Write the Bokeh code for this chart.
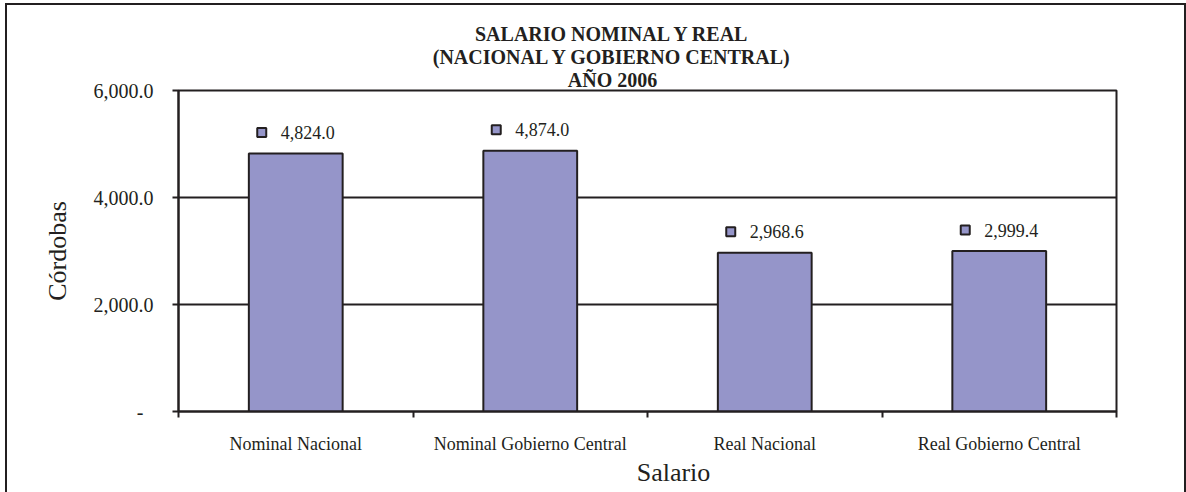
from bokeh.plotting import figure
from bokeh.models import FixedTicker, InlineStyleSheet, Range1d, ColumnDataSource, Title
from bokeh.transform import dodge
from bokeh.core.properties import value
from bokeh.embed import file_html
from bokeh.resources import INLINE

# ---- data ----
categories = ["Nominal Nacional", "Nominal Gobierno Central", "Real Nacional", "Real Gobierno Central"]
salario = [4824.0, 4874.0, 2968.6, 2999.4]
y_ticks = [0, 2000, 4000, 6000]
y_tick_labels = ["-\u00a0\u00a0", "2,000.0", "4,000.0", "6,000.0"]
title_lines = ["SALARIO NOMINAL Y REAL", "(NACIONAL Y GOBIERNO CENTRAL)", "AÑO 2006"]
x_title = "Salario"
y_title = "Córdobas"

INK = "#231F20"
BAR = "#9595C9"
FONT = "Liberation Serif"
NB = "\u00a0"

xs = [i + 0.5 for i in range(len(categories))]
src = ColumnDataSource(dict(x=xs, top=salario, lab=[f"{v:,.1f}" for v in salario]))

p = figure(width=1186, height=492, output_backend="svg", toolbar_location=None,
           x_range=Range1d(0, len(categories)), y_range=Range1d(0, 6000),
           min_border_left=178, min_border_right=70, min_border_top=90, min_border_bottom=81)
p.background_fill_color = "white"
p.border_fill_color = "white"
p.outline_line_color = INK
p.outline_line_width = 2


def style_title(t):
    t.align = "center"
    t.vertical_align = "bottom"
    t.text_font = FONT
    t.text_font_size = "20px"
    t.text_font_style = "bold"
    t.text_color = INK
    t.standoff = -1


# title: three centred lines, a little left of the plot centre as in the original
# (titles added later are stacked closer to the plot; the default title is outermost)
p.title.text = title_lines[0] + NB * 14
style_title(p.title)
for line in reversed(title_lines[1:]):
    t = Title(text=line + NB * 14)
    style_title(t)
    p.add_layout(t, "above")

# grid
p.xgrid.visible = False
p.ygrid.ticker = FixedTicker(ticks=y_ticks)
p.ygrid.grid_line_color = INK
p.ygrid.grid_line_width = 2

# y axis
ya = p.yaxis[0]
ya.ticker = FixedTicker(ticks=y_ticks, minor_ticks=[])
ya.major_label_overrides = {t: l for t, l in zip(y_ticks, y_tick_labels)}
ya.major_tick_out = 6
ya.major_tick_in = 0
ya.major_tick_line_width = 2
ya.major_tick_line_color = INK
ya.axis_line_color = INK
ya.axis_line_width = 2
ya.major_label_standoff = 19
ya.major_label_text_font = FONT
ya.major_label_text_font_size = "20px"
ya.major_label_text_color = INK
ya.axis_label = y_title
ya.axis_label_text_font = FONT
ya.axis_label_text_font_size = "26px"
ya.axis_label_text_font_style = "normal"
ya.axis_label_text_color = INK
ya.axis_label_standoff = 19

# x axis: labels at centres, ticks at category boundaries
xa = p.xaxis[0]
xa.ticker = FixedTicker(ticks=xs, minor_ticks=list(range(len(categories) + 1)))
xa.major_label_overrides = {x: c for x, c in zip(xs, categories)}
xa.major_tick_out = 0
xa.major_tick_in = 0
xa.minor_tick_out = 6
xa.minor_tick_in = 0
xa.minor_tick_line_width = 2
xa.minor_tick_line_color = INK
xa.axis_line_color = INK
xa.axis_line_width = 2
xa.major_label_standoff = 16
xa.major_label_text_font = FONT
xa.major_label_text_font_size = "18px"
xa.major_label_text_color = INK
xa.axis_label = NB * 8 + x_title
xa.axis_label_text_font = FONT
xa.axis_label_text_font_size = "26px"
xa.axis_label_text_font_style = "normal"
xa.axis_label_text_color = INK
xa.axis_label_standoff = 1

# bars
p.vbar(x="x", top="top", width=0.4, source=src, fill_color=BAR,
       line_color=INK, line_width=2)

# data labels with legend key squares
p.scatter(x=dodge("x", -0.145, range=p.x_range), y=dodge("top", 392, range=p.y_range),
          source=src, marker="square", size=9, fill_color=BAR, line_color=INK, line_width=2)
p.text(x="x", y="top", text="lab", source=src, x_offset=-15, y_offset=-21,
       text_align="left", text_baseline="middle", text_font=value(FONT),
       text_font_size="18px", text_color=INK)

# outer chart border (left, top, right)
p.stylesheets = [InlineStyleSheet(css="""
:host { position: relative; }
:host::before { content: ""; position: absolute; left: 5px; top: 3px; right: 0px; bottom: 0px;
  border: 2px solid #231F20; border-bottom: none; pointer-events: none; z-index: 5; }
""")]

open("out.html", "w").write(file_html(p, INLINE))
